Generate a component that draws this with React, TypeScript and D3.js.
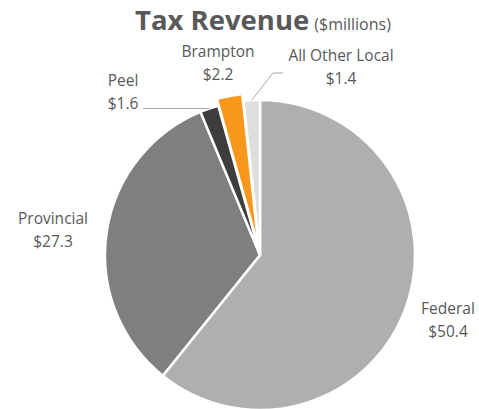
import React from "react";
import * as d3 from "d3";

const categories = ["Federal", "Provincial", "Peel", "Brampton", "All Other Local"];
const values = [50.4, 27.3, 1.6, 2.2, 1.4];
const valueLabels = ["$50.4", "$27.3", "$1.6", "$2.2", "$1.4"];
const colors = ["#afafaf", "#7f7f7f", "#3d3d3d", "#f7981d", "#dedede"];
const explode = [0, 0, 0, 7, 0];

// label layout (centre x, first baseline y)
const labelPos: [number, number][] = [
  [448, 314],
  [53, 224],
  [123, 86],
  [218, 57],
  [341, 61],
];

const W = 479;
const H = 409;
const cx = 260;
const cy = 255;
const R = 155;
const FONT = "'Open Sans', 'Noto Sans', sans-serif";
const TEXT = "#595959";

export default function App() {
  const data = categories.map((c, i) => ({ c, v: values[i], i }));
  const pie = d3
    .pie<{ c: string; v: number; i: number }>()
    .sort(null)
    .value((d) => d.v)
    .startAngle(0)
    .endAngle(2 * Math.PI);
  const arcs = pie(data);
  const arc = d3
    .arc<d3.PieArcDatum<{ c: string; v: number; i: number }>>()
    .innerRadius(0)
    .outerRadius(R);

  const pt = (a: number, r: number): [number, number] => [
    cx + r * Math.sin(a),
    cy - r * Math.cos(a),
  ];
  const mid = (a: d3.PieArcDatum<any>) => (a.startAngle + a.endAngle) / 2;

  const peel = arcs[2];
  const peelEdge = pt(mid(peel), R);
  const other = arcs[4];
  const otherEdge = pt(mid(other), R);

  return (
    <svg
      width={W}
      height={H}
      style={{ position: "absolute", left: 0, top: 0, background: "#fff" }}
      fontFamily={FONT}
    >
      <text x={135} y={30} fill={TEXT}>
        <tspan fontWeight="bold" fontSize={27.5}>Tax Revenue</tspan>
        <tspan fontSize={16} dx={5}>($millions)</tspan>
      </text>
      <g>
        {arcs.map((a, i) => {
          const m = mid(a);
          const dx = explode[i] * Math.sin(m);
          const dy = -explode[i] * Math.cos(m);
          return (
            <path
              key={i}
              d={arc(a) || ""}
              transform={`translate(${cx + dx},${cy + dy})`}
              fill={colors[i]}
              stroke="#fff"
              strokeWidth={2.5}
              strokeLinejoin="miter"
            />
          );
        })}
      </g>
      <polyline
        points={`143,${peelEdge[1]} ${peelEdge[0]},${peelEdge[1]}`}
        fill="none"
        stroke="#a6a6a6"
        strokeWidth={1}
      />
      <polyline
        points={`${otherEdge[0]},${otherEdge[1]} 273,73 283,73`}
        fill="none"
        stroke="#a6a6a6"
        strokeWidth={1}
      />
      {categories.map((c, i) => (
        <text
          key={c}
          x={labelPos[i][0]}
          y={labelPos[i][1]}
          textAnchor="middle"
          fontSize={15.5}
          fill={TEXT}
        >
          <tspan x={labelPos[i][0]}>{c}</tspan>
          <tspan x={labelPos[i][0]} dy={23}>
            {valueLabels[i]}
          </tspan>
        </text>
      ))}
    </svg>
  );
}
